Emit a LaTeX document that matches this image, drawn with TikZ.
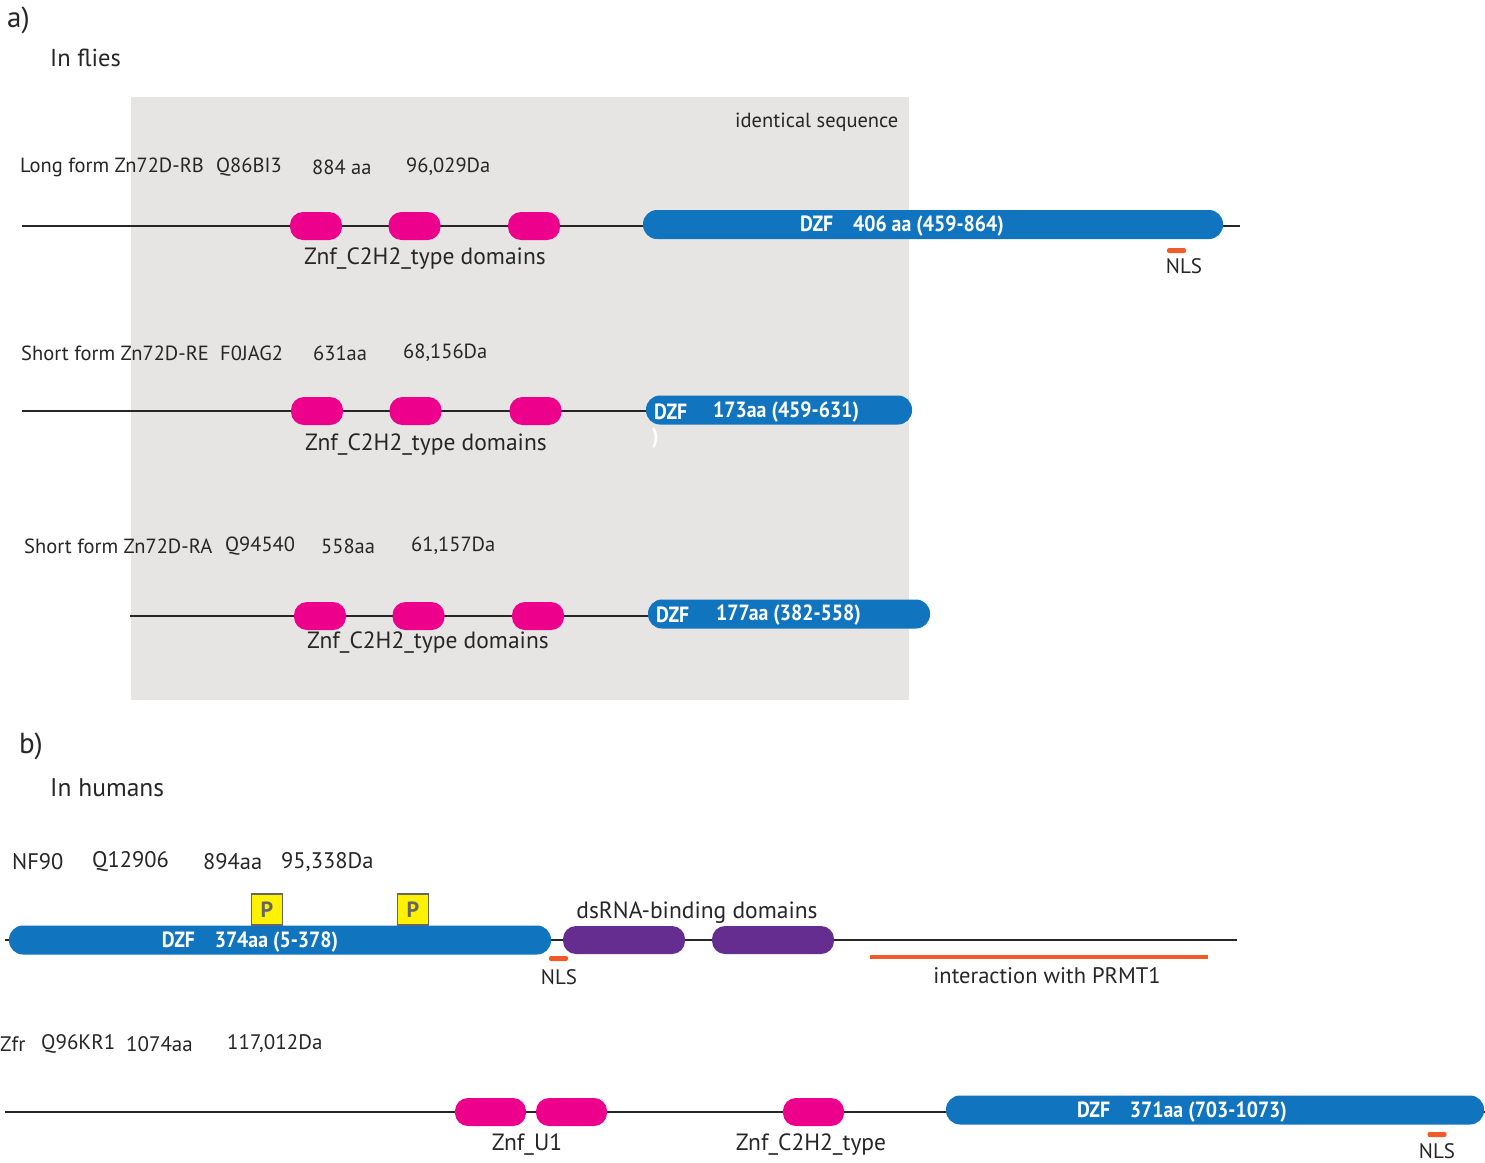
\documentclass[tikz,border=0pt]{standalone}
\usepackage{fontspec}
\setmainfont{PT Sans}
\newfontfamily\dzffont[FakeStretch=0.9]{PT Sans}
\definecolor{znfpink}{HTML}{EC008C}
\definecolor{dzfblue}{HTML}{1174BE}
\definecolor{nlsorange}{HTML}{F15A29}
\definecolor{dsrpurple}{HTML}{662D91}
\definecolor{boxgray}{HTML}{E6E5E3}
\definecolor{pyellow}{HTML}{FFF200}
\definecolor{pgray}{HTML}{666666}
\tikzset{
  lab/.style={font=\fontsize{20.5}{24}\selectfont, anchor=west, inner sep=0, text=black!85},
  clab/.style={font=\fontsize{23.5}{27}\selectfont, anchor=center, inner sep=0, text=black!85},
  head/.style={font=\fontsize{29}{32}\selectfont, anchor=west, inner sep=0, text=black!85},
  backbone/.style={draw=black!85, line width=1.6pt},
  znf/.style={fill=znfpink, rounded corners=13pt, minimum width=52pt, minimum height=28pt, inner sep=0},
  dsr/.style={fill=dsrpurple, rounded corners=13pt, minimum width=122pt, minimum height=28pt, inner sep=0},
  dzfbar/.style={fill=dzfblue, rounded corners=14pt, minimum height=29pt, inner sep=0},
  dzftext/.style={font=\dzffont\bfseries\fontsize{22}{25}\selectfont, text=white, inner sep=0},
  nlsbar/.style={fill=nlsorange, rounded corners=2pt, minimum width=19pt, minimum height=5pt, inner sep=0},
  pbox/.style={fill=pyellow, draw=pgray, line width=1.5pt, minimum width=31pt, minimum height=31pt, inner sep=0,
    font=\bfseries\fontsize{22}{24}\selectfont, text=pgray},
}
\begin{document}
\begin{tikzpicture}[x=1pt,y=-1pt]
\useasboundingbox (0,0) rectangle (1485,1162);
\fill[white] (0,0) rectangle (1485,1162);
% gray box
\node[fill=boxgray, minimum width=778pt, minimum height=603pt, inner sep=0, anchor=north west] (gray) at (131,97) {};
\node[head] (ha) at (7,20) {a)};
\node[lab, font=\fontsize{24.5}{28}\selectfont] (flies) at (50,58) {In flies};
\node[lab] (ident) at (735,122) {identical sequence};

% ---------- Row 1 ----------
\node[lab] (r1a) at (20,167) {Long form Zn72D-RB};
\node[lab] (r1b) at (216,167) {Q86BI3};
\node[lab] (r1c) at (312,167) {884 aa};
\node[lab] (r1d) at (406,167) {96,029Da};
\coordinate (r1s) at (22,226);
\coordinate (r1e) at (1240,226);
\draw[backbone] (r1s) -- (r1e);
\node[znf] (r1z1) at (316,226) {};
\node[znf] (r1z2) at (414.5,226) {};
\node[znf] (r1z3) at (534,226) {};
\node[dzfbar, minimum width=580pt] (r1dzf) at (933,224.5) {};
\node[dzftext] (r1dt) at (902,226) {DZF\hspace{0.9em}406 aa (459-864)};
\node[nlsbar] (r1nls) at (1176.5,250.5) {};
\node[lab, anchor=center, font=\fontsize{21}{24}\selectfont] (r1nlst) at (1184,266) {NLS};
\node[clab] (r1zt) at (425,259) {Znf\_C2H2\_type domains};

% ---------- Row 2 ----------
\node[lab] (r2a) at (21,353) {Short form Zn72D-RE};
\node[lab] (r2b) at (220,353) {F0JAG2};
\node[lab] (r2c) at (313,353) {631aa};
\node[lab] (r2d) at (403,353) {68,156Da};
\coordinate (r2s) at (22,411);
\coordinate (r2e) at (650,411);
\draw[backbone] (r2s) -- (r2e);
\node[znf] (r2z1) at (317,411) {};
\node[znf] (r2z2) at (415.5,411) {};
\node[znf] (r2z3) at (535.5,411) {};
\node[dzfbar, minimum width=266pt] (r2dzf) at (779,410) {};
\node[dzftext, anchor=west] (r2dt1) at (654,412) {DZF};
\node[dzftext, anchor=west] (r2dt2) at (713,412) {173aa (459-631)};
\node[dzftext, anchor=west] (r2par) at (652,438) {)};
\node[clab] (r2zt) at (426,445) {Znf\_C2H2\_type domains};

% ---------- Row 3 ----------
\node[lab] (r3a) at (24,546) {Short form Zn72D-RA};
\node[lab] (r3b) at (225,546) {Q94540};
\node[lab] (r3c) at (321,546) {558aa};
\node[lab] (r3d) at (411,546) {61,157Da};
\coordinate (r3s) at (130,616);
\coordinate (r3e) at (652,616);
\draw[backbone] (r3s) -- (r3e);
\node[znf] (r3z1) at (320,616) {};
\node[znf] (r3z2) at (418.5,616) {};
\node[znf] (r3z3) at (538,616) {};
\node[dzfbar, minimum width=282pt] (r3dzf) at (789,614) {};
\node[dzftext, anchor=west] (r3dt1) at (656,615) {DZF};
\node[dzftext, anchor=west] (r3dt2) at (716,615) {177aa (382-558)};
\node[clab] (r3zt) at (428,643) {Znf\_C2H2\_type domains};

% ---------- b) ----------
\node[head] (hb) at (19,746) {b)};
\node[lab, font=\fontsize{25.5}{29}\selectfont] (humans) at (50,788) {In humans};

% NF90
\node[lab, font=\fontsize{22.5}{26}\selectfont] (n1) at (12,862) {NF90};
\node[lab, font=\fontsize{22.5}{26}\selectfont] (n2) at (92,862) {Q12906};
\node[lab, font=\fontsize{22.5}{26}\selectfont] (n3) at (203,862) {894aa};
\node[lab, font=\fontsize{22.5}{26}\selectfont] (n4) at (281,862) {95,338Da};
\coordinate (n90s) at (5,940);
\coordinate (n90e) at (1237,940);
\draw[backbone] (n90s) -- (n90e);
\node[dzfbar, minimum width=542pt] (n90dzf) at (280,940) {};
\node[dzftext] (n90dt) at (250,942) {DZF\hspace{0.9em}374aa (5-378)};
\node[pbox] (p1) at (267,909.5) {P};
\node[pbox] (p2) at (413,909.5) {P};
\node[nlsbar] (n90nls) at (558.5,958.5) {};
\node[lab, anchor=center, font=\fontsize{21}{24}\selectfont] (n90nlst) at (559,977) {NLS};
\node[dsr] (d1) at (624,940) {};
\node[dsr] (d2) at (773,940) {};
\node[clab] (dst) at (697,913) {dsRNA-binding domains};
\coordinate (prs) at (870,957);
\coordinate (pre) at (1208,957);
\draw[nlsorange, line width=4.5pt] (prs) -- (pre);
\node[clab, font=\fontsize{22.5}{26}\selectfont] (prt) at (1047,976) {interaction with PRMT1};

% Zfr
\node[lab, font=\fontsize{21}{24}\selectfont] (z1) at (0,1044) {Zfr};
\node[lab, font=\fontsize{21}{24}\selectfont] (z2) at (41,1044) {Q96KR1};
\node[lab, font=\fontsize{21}{24}\selectfont] (z3) at (126,1044) {1074aa};
\node[lab, font=\fontsize{21}{24}\selectfont] (z4) at (227,1044) {117,012Da};
\coordinate (zfs) at (5,1112);
\coordinate (zfe) at (1485,1112);
\draw[backbone] (zfs) -- (zfe);
\node[znf, minimum width=71pt] (zu1) at (490.5,1112) {};
\node[znf, minimum width=71pt] (zu2) at (571.5,1112) {};
\node[znf, minimum width=61pt] (zc) at (813.5,1112) {};
\node[dzfbar, minimum width=538pt] (zfdzf) at (1215,1110) {};
\node[dzftext] (zfdt) at (1182,1112) {DZF\hspace{0.9em}371aa (703-1073)};
\node[clab] (zut) at (527,1145) {Znf\_U1};
\node[clab] (zct) at (811,1145) {Znf\_C2H2\_type};
\node[nlsbar] (zfnls) at (1437,1134.5) {};
\node[lab, anchor=center, font=\fontsize{21}{24}\selectfont] (zfnlst) at (1437,1151) {NLS};
\end{tikzpicture}
\end{document}
